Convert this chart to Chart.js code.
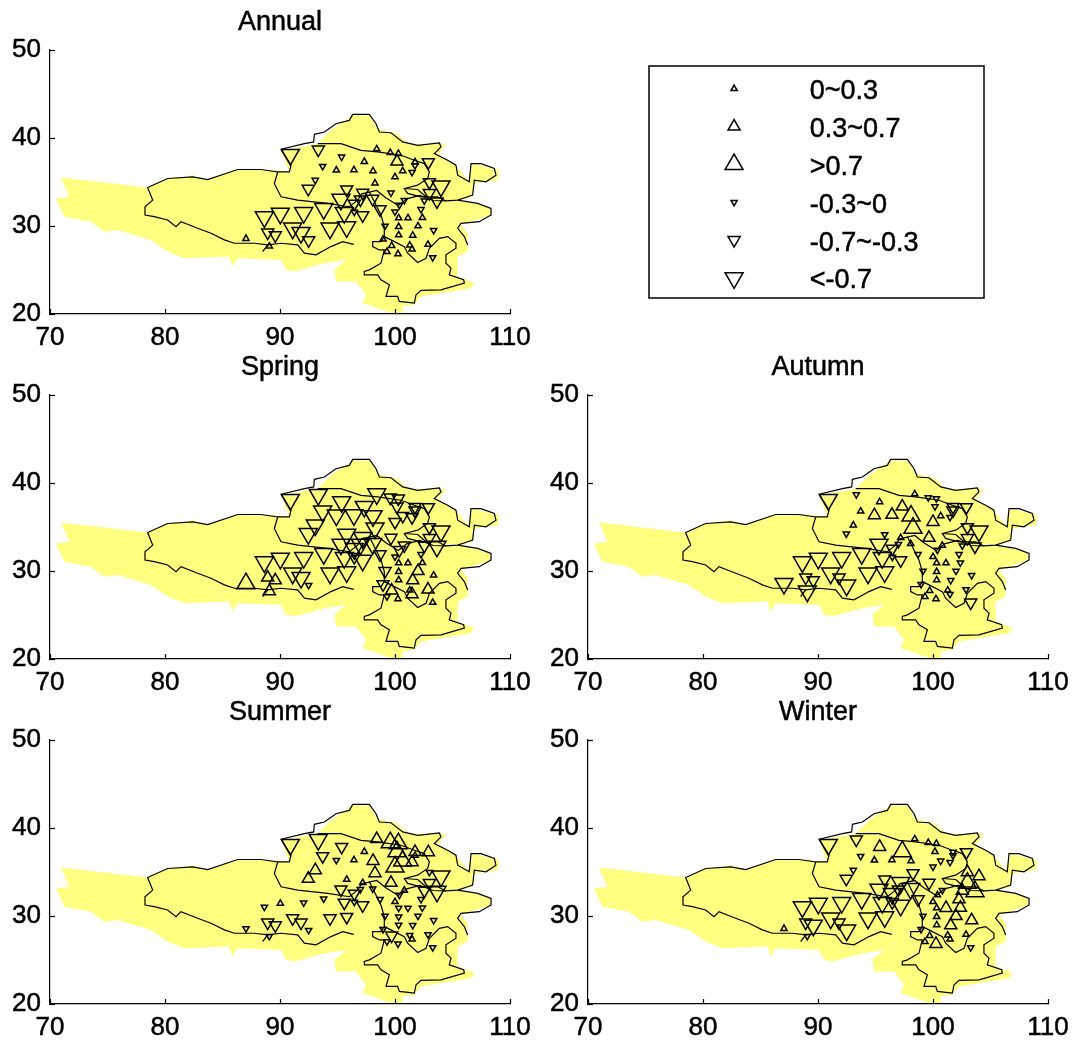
<!DOCTYPE html>
<html>
<head>
<meta charset="utf-8">
<title>Seasonal trends</title>
<script src="https://cdn.jsdelivr.net/npm/chart.js@4/dist/chart.umd.min.js"></script>
<style>
html, body { margin: 0; padding: 0; background: #fff; }
#page { position: relative; width: 1076px; height: 1048px; overflow: hidden; }
canvas { position: absolute; }
</style>
</head>
<body>
<div id="page"></div>
<script>
// Axis ticks
const xTicks = [70, 80, 90, 100, 110];
const yTicks = [20, 30, 40, 50];

// Station positions (lon, lat), same order in every trend array below
const stationLon = [90.90, 93.33, 95.36, 98.41, 97.33, 93.71, 94.90, 96.43, 98.09, 99.59, 100.17, 101.74,
    100.67, 101.48, 101.74, 102.90, 100.00, 98.26, 93.07, 92.46, 95.80, 97.19, 99.65, 102.99,
    104.00, 102.99, 100.81, 102.55, 103.65, 95.30, 96.46, 98.06, 98.70, 100.38, 100.00, 102.26,
    88.64, 90.03, 92.06, 93.80, 95.59, 97.19, 96.46, 100.32, 101.13, 102.38, 91.10, 91.83,
    94.35, 95.80, 88.93, 89.59, 92.49, 87.04, 100.32, 102.00, 99.13, 103.36, 100.32, 101.54,
    89.07, 99.71, 101.28, 102.87, 101.48, 99.30, 100.26, 103.28, 98.96, 100.29, 96.99];
const stationLat = [38.11, 38.68, 37.85, 38.75, 37.32, 36.79, 36.34, 36.38, 36.26, 38.34, 37.32, 37.28,
    36.26, 36.11, 36.87, 37.25, 35.58, 34.87, 35.21, 34.23, 34.15, 33.77, 33.77, 34.98,
    34.53, 33.74, 32.91, 32.87, 32.79, 33.02, 32.53, 33.09, 31.89, 32.38, 31.62, 31.89,
    31.02, 31.43, 31.51, 31.96, 31.51, 31.21, 31.58, 30.91, 30.91, 30.94, 29.74, 29.25,
    29.74, 29.89, 29.25, 28.94, 28.38, 28.57, 29.92, 30.00, 30.00, 29.51, 28.98, 28.94,
    27.70, 27.77, 27.81, 27.89, 27.36, 27.09, 26.83, 26.42, 28.49, 38.23, 33.02];

// Trend per station, estimated from the marker class seen in each panel
const annualTrend = [-0.9, -0.5, -0.15, 0.15, 0.15, -0.15, 0.15, 0.15, 0.15, 0.15, 0.5, 0.15,
    0.15, -0.15, -0.15, -0.5, 0.15, 0.15, -0.15, -0.5, -0.5, -0.5, -0.15, -0.5,
    -0.9, -0.5, -0.15, -0.15, -0.5, -0.9, -0.5, -0.5, -0.5, -0.15, -0.15, -0.15,
    -0.9, -0.9, -0.9, -0.9, -0.9, -0.5, -0.15, 0.15, 0.15, 0.15, -0.9, -0.9,
    -0.9, -0.9, -0.5, -0.5, -0.5, 0.15, 0.15, 0.15, -0.15, -0.15, 0.15, 0.15,
    0.15, 0.15, 0.15, 0.15, 0.15, 0.15, 0.15, -0.15, 0.15, 0.15, -0.5];
const springTrend = [-0.9, -0.9, -0.9, -0.9, -0.9, -0.9, -0.9, -0.9, -0.9, -0.5, -0.5, -0.5,
    -0.5, -0.5, -0.5, -0.5, -0.5, -0.9, -0.9, -0.9, -0.9, -0.9, -0.5, -0.5,
    -0.9, -0.5, -0.5, -0.5, -0.9, -0.9, -0.9, -0.9, -0.5, -0.5, -0.15, -0.15,
    -0.9, -0.9, -0.9, -0.9, -0.9, -0.9, -0.5, 0.15, 0.15, 0.15, -0.9, -0.9,
    -0.9, -0.9, 0.5, 0.5, -0.15, 0.9, 0.15, 0.5, -0.5, 0.15, 0.15, 0.5,
    0.5, 0.5, 0.15, 0.5, 0.5, -0.15, 0.15, 0.15, -0.5, -0.5, -0.9];
const autumnTrend = [-0.9, -0.15, 0.15, 0.15, 0.5, 0.15, 0.5, 0.5, 0.9, -0.15, -0.15, -0.5,
    0.15, -0.15, -0.5, -0.5, 0.5, 0.9, 0.15, -0.15, -0.15, 0.15, 0.5, -0.5,
    -0.9, -0.5, 0.15, -0.15, -0.5, -0.9, -0.5, 0.15, -0.15, -0.15, 0.15, -0.15,
    -0.9, -0.9, -0.9, -0.9, -0.9, -0.5, -0.15, 0.15, 0.15, -0.15, -0.9, -0.5,
    -0.9, -0.9, -0.5, -0.5, -0.9, -0.9, 0.15, -0.15, -0.15, -0.15, 0.15, -0.15,
    -0.9, 0.15, 0.15, -0.15, -0.15, 0.15, 0.15, -0.5, -0.15, -0.15, -0.15];
const summerTrend = [-0.9, -0.9, -0.5, 0.5, 0.15, -0.5, -0.15, 0.15, 0.5, 0.9, 0.9, 0.5,
    0.9, 0.5, 0.15, 0.5, 0.9, 0.5, 0.5, 0.5, 0.15, 0.15, 0.5, -0.15,
    -0.9, -0.5, 0.15, -0.5, -0.9, -0.5, -0.5, -0.15, -0.15, -0.15, 0.15, -0.15,
    -0.15, 0.15, -0.15, -0.15, -0.5, -0.5, -0.15, -0.15, -0.15, -0.15, -0.5, -0.5,
    -0.5, -0.5, -0.5, -0.5, -0.15, -0.15, -0.15, -0.15, -0.15, -0.15, -0.15, -0.15,
    -0.15, -0.5, -0.15, -0.15, 0.15, -0.15, -0.15, -0.15, -0.15, 0.9, -0.15];
const winterTrend = [-0.9, -0.5, 0.5, 0.15, 0.9, -0.15, 0.15, 0.15, 0.15, 0.15, 0.15, -0.15,
    -0.15, -0.15, -0.15, -0.5, -0.15, -0.5, -0.15, -0.5, -0.5, -0.9, -0.5, 0.5,
    0.5, 0.9, -0.15, 0.5, 0.9, -0.9, -0.9, -0.9, -0.5, 0.15, 0.15, 0.5,
    -0.9, -0.9, -0.9, -0.9, -0.9, -0.9, -0.5, 0.15, 0.5, 0.5, -0.9, -0.5,
    -0.9, -0.9, -0.5, -0.9, -0.9, 0.15, 0.15, 0.5, -0.15, 0.5, 0.15, 0.5,
    -0.15, 0.15, 0.15, 0.15, 0.15, 0.15, 0.5, -0.15, -0.15, 0.15, -0.5];

// Yellow region
const regionShape = [[70.96, 35.51], [78.49, 34.38], [80.23, 35.40], [82.41, 35.77], [83.71, 35.28], [86.32, 36.42],
    [89.51, 36.34], [90.81, 36.15], [90.09, 38.60], [93.28, 39.36], [94.43, 40.87], [96.32, 42.57], [97.77, 42.57],
    [98.49, 41.06], [100.23, 40.49], [101.10, 39.36], [104.43, 39.36], [103.71, 38.04], [105.16, 37.09], [106.32, 35.21],
    [106.75, 37.09], [109.07, 36.34], [108.93, 35.21], [106.90, 34.83], [106.75, 33.32], [105.45, 32.94], [108.20, 32.19],
    [108.35, 31.25], [105.74, 30.11], [106.32, 29.17], [106.32, 27.09], [105.45, 26.53], [105.45, 24.26], [106.90, 23.51],
    [106.61, 22.94], [102.26, 22.00], [101.68, 21.06], [100.67, 20.87], [100.67, 19.74], [99.65, 20.11], [97.19, 21.25],
    [97.48, 22.19], [96.61, 23.70], [94.87, 23.70], [94.72, 25.02], [95.74, 26.15], [93.86, 25.77], [91.25, 24.83],
    [90.52, 25.02], [90.09, 26.15], [86.32, 26.34], [85.88, 25.40], [85.59, 26.53], [81.68, 26.34], [80.23, 27.09],
    [78.78, 28.42], [75.88, 29.55], [74.72, 29.36], [73.57, 30.49], [71.25, 31.06], [70.52, 33.13], [71.68, 33.32],
    [70.96, 35.51]];

// Black boundary lines
const borderTibet = [[96.41, 27.92], [95.45, 28.23], [94.43, 27.66], [93.13, 26.72], [92.12, 26.91], [91.54, 27.85],
    [90.09, 28.04], [88.93, 27.85], [87.77, 28.04], [86.03, 28.04], [85.16, 28.42], [84.00, 29.17], [82.84, 29.74],
    [81.39, 30.49], [80.96, 29.92], [80.23, 30.68], [79.07, 31.06], [78.26, 31.25], [78.26, 32.19], [78.93, 32.94],
    [78.49, 34.38], [80.23, 35.40], [82.41, 35.58], [83.71, 35.28], [86.32, 36.42], [88.35, 36.42], [89.80, 36.15],
    [89.51, 34.83], [90.09, 33.32], [91.54, 32.94], [94.14, 32.57], [96.03, 32.19], [96.75, 32.94], [97.10, 33.66],
    [98.41, 34.04], [99.20, 33.20], [100.29, 32.34], [101.01, 33.09], [102.17, 33.47], [103.33, 32.90], [104.43, 32.85]];
const borderSpur = [[88.49, 27.09], [88.93, 27.85]];
const borderGansu = [[90.09, 38.72], [90.96, 36.91], [90.81, 36.15], [89.80, 36.15]];
const borderQinghai = [[93.28, 39.36], [95.30, 39.36], [97.04, 38.60], [98.49, 38.42], [100.52, 38.04], [101.68, 37.47],
    [102.55, 37.09], [102.99, 36.15], [102.84, 35.40], [101.97, 34.64], [100.81, 34.26], [101.10, 33.70], [102.26, 33.32],
    [103.71, 33.32], [104.43, 32.85]];
const borderLake = [[100.81, 34.26], [101.97, 34.15], [102.70, 33.32]];
const borderNorth = [[90.09, 38.72], [92.12, 39.36], [92.93, 39.55], [92.99, 40.42], [93.86, 40.68], [94.87, 41.62],
    [96.03, 42.00], [96.32, 42.68], [97.77, 42.68], [98.35, 41.62], [98.64, 40.68], [99.65, 40.60], [100.67, 39.55],
    [101.97, 39.17], [103.86, 39.43], [104.00, 38.98], [103.42, 38.23], [104.58, 37.47], [105.30, 36.91], [105.45, 35.77],
    [106.46, 35.02], [106.61, 37.09], [107.48, 37.09], [108.64, 36.53], [108.78, 35.77], [107.91, 35.02], [106.90, 35.21],
    [106.75, 33.51], [106.32, 33.32], [105.45, 32.94], [104.43, 32.85]];
const borderEast = [[105.45, 32.94], [107.19, 32.57], [108.35, 32.00], [108.35, 31.25], [107.33, 30.49], [105.74, 30.30],
    [105.45, 29.74], [106.03, 28.79], [106.32, 27.85]];
const borderCentral = [[97.77, 33.89], [98.78, 31.25], [99.07, 29.92], [99.07, 28.79]];
const borderSouth = [[99.07, 28.79], [98.78, 28.23], [98.06, 28.23], [98.06, 27.66], [98.64, 27.28], [99.07, 27.28],
    [98.78, 25.77], [97.77, 25.02], [97.33, 24.83], [97.33, 24.45], [98.49, 24.45], [98.78, 23.89], [99.51, 23.32],
    [99.22, 22.00], [100.23, 22.00], [100.38, 21.43], [101.68, 21.25], [101.83, 22.19], [102.26, 22.68], [104.00, 22.75],
    [106.03, 23.51], [105.97, 23.89], [104.72, 24.45], [104.87, 25.21], [104.43, 25.77], [104.43, 26.72], [105.30, 27.47],
    [105.30, 28.04], [104.58, 28.79], [103.86, 28.60], [102.99, 27.47], [102.70, 26.34], [101.97, 25.85], [101.10, 26.91],
    [100.81, 27.66], [99.65, 28.42], [99.07, 28.79]];
const borderLines = [borderTibet, borderSpur, borderGansu, borderQinghai, borderLake, borderNorth, borderEast, borderCentral, borderSouth];

// Legend
const legendLabels = ['0~0.3', '0.3~0.7', '>0.7', '-0.3~0', '-0.7~-0.3', '<-0.7'];
const legendTrend = [0.15, 0.5, 0.9, -0.15, -0.5, -0.9];

const FAMILY = '"Liberation Sans", Arial, sans-serif';
const TICK_FONT = { family: FAMILY, size: 26 };
const TEXT_SIZE = 27;
const YELLOW = '#ffff80';

function makeCanvas(left, top, width, height) {
    const c = document.createElement('canvas');
    c.width = width;
    c.height = height;
    c.style.left = left + 'px';
    c.style.top = top + 'px';
    document.getElementById('page').appendChild(c);
    return c;
}

// Marker size depends on the trend class, direction on its sign
function markerRadius(v) {
    const a = Math.abs(v);
    if (a > 0.7) return 10.4;
    if (a > 0.3) return 7;
    return 3.6;
}

function toPoints(pairs) {
    return pairs.map(p => ({ x: p[0], y: p[1] }));
}

function markerDataset(points, values) {
    return {
        data: points,
        showLine: false,
        pointStyle: 'triangle',
        pointRadius: ctx => markerRadius(values[ctx.dataIndex]),
        pointRotation: ctx => values[ctx.dataIndex] < 0 ? 180 : 0,
        pointBackgroundColor: 'rgba(0,0,0,0)',
        pointBorderColor: '#000',
        pointBorderWidth: 1.5,
        clip: false,
        order: 0
    };
}

// Slightly heavy text, the reference type looks bolder than plain Liberation
function boldText(ctx, text, x, y) {
    ctx.fillStyle = '#000';
    ctx.strokeStyle = '#000';
    ctx.lineWidth = 0.5;
    ctx.font = TEXT_SIZE + 'px ' + FAMILY;
    ctx.fillText(text, x, y);
    ctx.strokeText(text, x, y);
}

function drawPanel(title, trend, left, top) {
    const stations = stationLon.map((lon, i) => ({ x: lon, y: stationLat[i] }));
    const datasets = [markerDataset(stations, trend)];
    borderLines.forEach(line => {
        datasets.push({
            data: toPoints(line),
            showLine: true,
            tension: 0,
            pointRadius: 0,
            borderColor: '#000',
            borderWidth: 1.2,
            clip: false,
            order: 1
        });
    });
    datasets.push({
        data: toPoints(regionShape),
        showLine: true,
        tension: 0,
        pointRadius: 0,
        borderWidth: 0,
        borderColor: YELLOW,
        backgroundColor: YELLOW,
        fill: 'shape',
        clip: false,
        order: 2
    });

    new Chart(makeCanvas(left, top, 538, 350), {
        type: 'scatter',
        data: { datasets },
        options: {
            responsive: false,
            animation: false,
            devicePixelRatio: 1,
            layout: { autoPadding: false, padding: { top: 50, right: 28 } },
            plugins: { legend: { display: false }, tooltip: { enabled: false } },
            scales: {
                x: {
                    type: 'linear',
                    min: 70,
                    max: 110,
                    afterFit: s => { s.height = 36; s.paddingLeft = 0; s.paddingRight = 0; },
                    afterBuildTicks: s => { s.ticks = xTicks.map(v => ({ value: v })); },
                    grid: { drawOnChartArea: false, tickLength: -5, tickColor: '#000', tickWidth: 1.2, z: 1 },
                    border: { color: '#000', width: 1.2, z: 1 },
                    ticks: { color: '#000', font: TICK_FONT, padding: 13, maxRotation: 0, autoSkip: false, z: 1, textStrokeColor: '#000', textStrokeWidth: 0.5 }
                },
                y: {
                    type: 'linear',
                    min: 20,
                    max: 50,
                    afterFit: s => { s.width = 50; s.paddingTop = 0; s.paddingBottom = 0; },
                    afterBuildTicks: s => { s.ticks = yTicks.map(v => ({ value: v })); },
                    grid: { drawOnChartArea: false, tickLength: -5, tickColor: '#000', tickWidth: 1.2, z: 1 },
                    border: { color: '#000', width: 1.2, z: 1 },
                    ticks: { color: '#000', font: TICK_FONT, padding: 14, autoSkip: false, z: 1, textStrokeColor: '#000', textStrokeWidth: 0.5 }
                }
            }
        },
        plugins: [{
            id: 'panelTitle',
            afterDraw(chart) {
                const { ctx, chartArea } = chart;
                ctx.save();
                ctx.textAlign = 'center';
                ctx.textBaseline = 'middle';
                boldText(ctx, title, (chartArea.left + chartArea.right) / 2, chartArea.top - 27);
                ctx.restore();
            }
        }]
    });
}

function drawLegend() {
    const rows = legendTrend.map((v, i) => ({ x: 0.254, y: i }));
    new Chart(makeCanvas(640, 60, 352, 246), {
        type: 'scatter',
        data: { datasets: [markerDataset(rows, legendTrend)] },
        options: {
            responsive: false,
            animation: false,
            devicePixelRatio: 1,
            layout: { autoPadding: false, padding: { left: 9, top: 6, right: 8, bottom: 8 } },
            plugins: { legend: { display: false }, tooltip: { enabled: false } },
            scales: {
                x: { type: 'linear', min: 0, max: 1, display: false },
                y: { type: 'linear', min: -0.6, max: 5.53, reverse: true, display: false }
            }
        },
        plugins: [{
            id: 'legendBox',
            afterDraw(chart) {
                const { ctx, chartArea, scales } = chart;
                ctx.save();
                ctx.strokeStyle = '#000';
                ctx.lineWidth = 1.5;
                ctx.strokeRect(chartArea.left, chartArea.top, chartArea.width, chartArea.height);
                ctx.textBaseline = 'middle';
                legendLabels.forEach((label, i) => {
                    boldText(ctx, label, scales.x.getPixelForValue(0.48), scales.y.getPixelForValue(i) + 3);
                });
                ctx.restore();
            }
        }]
    });
}

drawPanel('Annual', annualTrend, 0, 0);
drawPanel('Spring', springTrend, 0, 345);
drawPanel('Summer', summerTrend, 0, 690);
drawPanel('Autumn', autumnTrend, 538, 345);
drawPanel('Winter', winterTrend, 538, 690);
drawLegend();
</script>
</body>
</html>
